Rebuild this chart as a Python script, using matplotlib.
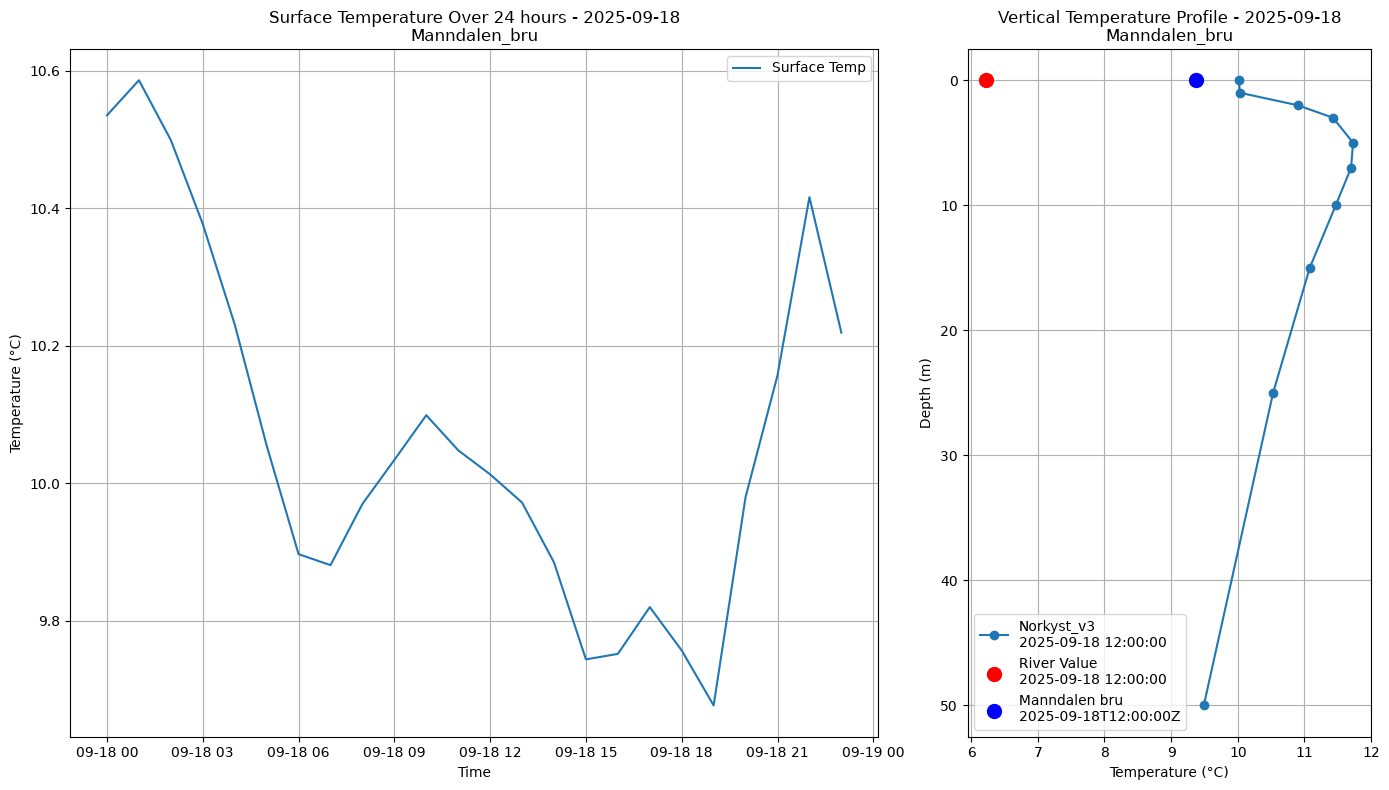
import matplotlib
matplotlib.use('Agg')
import matplotlib.pyplot as plt
import matplotlib.dates as mdates
import pandas as pd

plt.rcParams['text.hinting'] = 'no_autohint'
plt.rcParams['text.hinting_factor'] = 8

# surface temperature, hourly
times = pd.date_range('2025-09-18 00:00', periods=24, freq='h')
surface_temp = [10.535, 10.586, 10.499, 10.377, 10.231, 10.055, 9.897, 9.881, 9.970, 10.034,
                10.099, 10.048, 10.013, 9.972, 9.885, 9.744, 9.752, 9.820, 9.757, 9.677,
                9.980, 10.157, 10.416, 10.219]

# vertical profile
depths = [0, 1, 2, 3, 5, 7, 10, 15, 25, 50]
profile_temp = [10.02, 10.03, 10.90, 11.43, 11.73, 11.70, 11.47, 11.08, 10.53, 9.49]

river_temp = 6.22
manndalen_temp = 9.38

fig, (ax1, ax2) = plt.subplots(1, 2, figsize=(14, 8), gridspec_kw={'width_ratios': [2, 1]})

ax1.plot(times, surface_temp, label='Surface Temp')
ax1.set_title('Surface Temperature Over 24 hours - 2025-09-18\nManndalen_bru', linespacing=1.05)
ax1.set_xlabel('Time')
ax1.set_ylabel('Temperature (°C)')
ax1.xaxis.set_major_formatter(mdates.DateFormatter('%m-%d %H'))
ax1.grid(True)
ax1.legend()

ax2.plot(profile_temp, depths, marker='o', label='Norkyst_v3\n2025-09-18 12:00:00')
ax2.scatter(river_temp, 0, color='red', s=100, zorder=5, label='River Value\n2025-09-18 12:00:00')
ax2.scatter(manndalen_temp, 0, color='blue', s=100, zorder=5, label='Manndalen bru\n2025-09-18T12:00:00Z')
ax2.invert_yaxis()
ax2.set_title('Vertical Temperature Profile - 2025-09-18\nManndalen_bru', linespacing=1.05)
ax2.set_xlabel('Temperature (°C)')
ax2.set_ylabel('Depth (m)')
ax2.grid(True)
ax2.legend()

plt.tight_layout()
plt.savefig('out.png', dpi=100, bbox_inches='tight')
